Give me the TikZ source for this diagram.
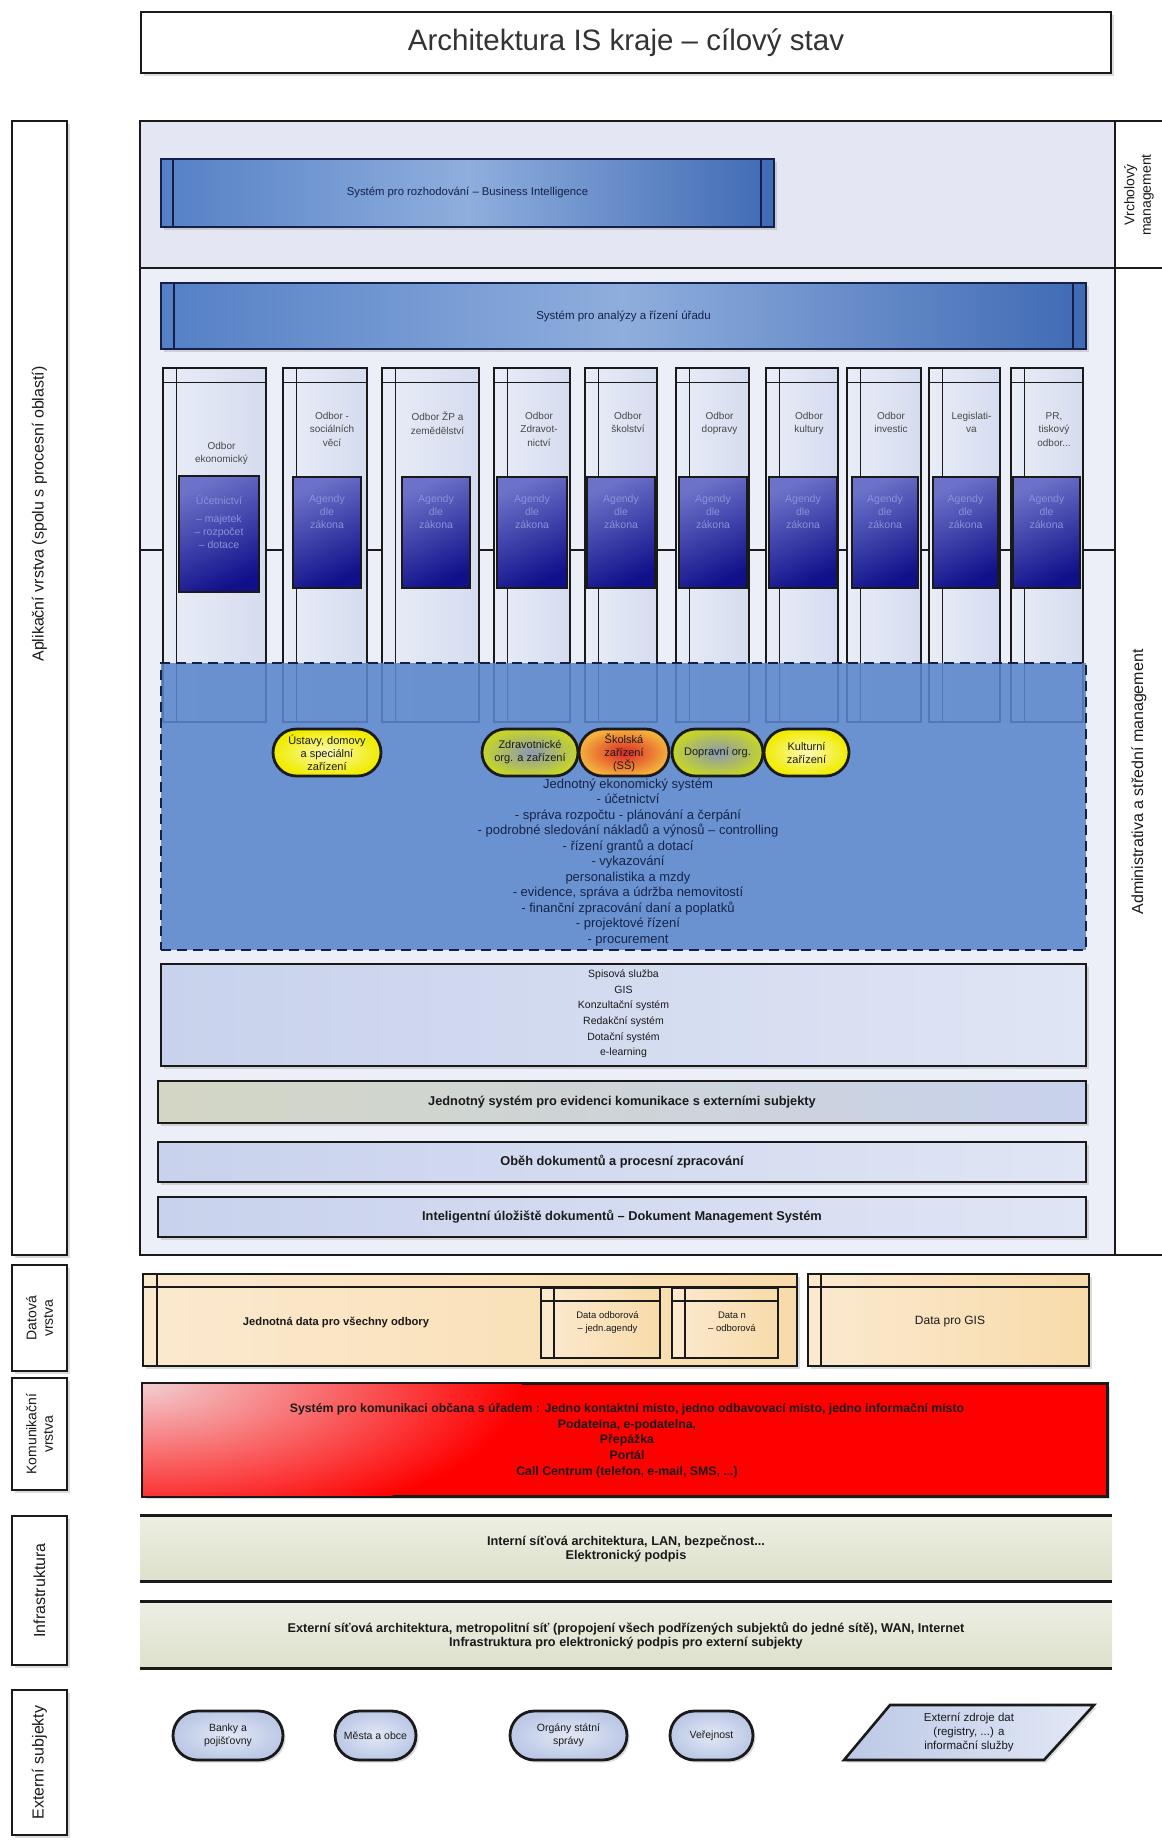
\documentclass[tikz,border=0pt]{standalone}
\usepackage{fontspec}
\setmainfont{Liberation Sans}
\usetikzlibrary{shapes.misc,shadows}
\definecolor{inkA}{HTML}{1A1A1A}
\definecolor{navyD}{HTML}{14204A}
\definecolor{topArea}{HTML}{E4E7F3}
\definecolor{lowArea}{HTML}{EDEFF8}
\definecolor{biL}{HTML}{5580C6}
\definecolor{biM}{HTML}{8FAEDD}
\definecolor{biR}{HTML}{3F6AB4}
\definecolor{colL}{HTML}{E9EDF7}
\definecolor{colR}{HTML}{D5DCEF}
\definecolor{agTop}{HTML}{6C72C8}
\definecolor{agBot}{HTML}{10108A}
\definecolor{agTxt}{HTML}{8A90D8}
\definecolor{procBlue}{HTML}{5A86CB}
\definecolor{procTxt}{HTML}{15234A}
\definecolor{yelIn}{HTML}{FBF9B8}
\definecolor{yelOut}{HTML}{F0EC00}
\definecolor{grnIn}{HTML}{8C98B4}
\definecolor{grnOut}{HTML}{C4D42A}
\definecolor{redIn}{HTML}{DC2828}
\definecolor{redOut}{HTML}{F4B03C}
\definecolor{bandL}{HTML}{C8D2EC}
\definecolor{bandR}{HTML}{DFE5F4}
\definecolor{bandG}{HTML}{D3D6C4}
\definecolor{dataL}{HTML}{FBE9CF}
\definecolor{dataR}{HTML}{F8DBAA}
\definecolor{comL}{HTML}{F2CFD2}
\definecolor{comM}{HTML}{F43030}
\definecolor{comR}{HTML}{FF0000}
\definecolor{infT}{HTML}{EDEFE3}
\definecolor{infB}{HTML}{DDE0CB}
\definecolor{extIn}{HTML}{E2E8F5}
\definecolor{extOut}{HTML}{BCC8E6}
\begin{document}
\begin{tikzpicture}[x=1pt,y=-1pt,
  every node/.style={inner sep=0pt,align=center},
  sh/.style={drop shadow={shadow xshift=2.5pt,shadow yshift=-2.5pt,opacity=0.28}},
  lab/.style={draw=inkA,line width=2.6pt,fill=white,sh},
  labtxt/.style={rotate=90,font=\fontsize{16}{18}\selectfont,text=inkA},
  labtxtS/.style={rotate=90,font=\fontsize{14}{16.5}\selectfont,text=inkA},
  sub/.style={draw=navyD,line width=1.8pt,left color=biL,right color=biR,middle color=biM,sh},
  colbox/.style={draw=inkA,line width=1.6pt,left color=colL,right color=colR},
  coltxt/.style={font=\fontsize{10}{13.5}\selectfont,text=inkA!80,anchor=north},
  agbox/.style={draw=inkA,line width=1.4pt,top color=agTop,bottom color=agBot,shading angle=25},
  agtxt/.style={font=\fontsize{10.5}{13}\selectfont,text=agTxt},
  band/.style={draw=inkA,line width=2.4pt,left color=bandL,right color=bandR,sh},
  btxt/.style={font=\bfseries\fontsize{12.8}{15.6}\selectfont,text=inkA},
  stxt/.style={font=\fontsize{10.5}{15.6}\selectfont,text=inkA},
  pill/.style={rounded rectangle,draw=inkA,line width=2.8pt,minimum height=47,font=\fontsize{11}{13}\selectfont,text=inkA},
  epill/.style={pill,sh,minimum height=49,inner color=extIn,outer color=extOut,font=\fontsize{10.5}{13}\selectfont},
  databox/.style={draw=inkA,line width=1.8pt,left color=dataL,right color=dataR},
]
\fill[white] (0,0) rectangle (1162,1845);
\useasboundingbox (0,0) rectangle (1162,1845);

% ---------- title
\node (title) [draw=inkA,line width=2pt,fill=white,sh,minimum width=970,minimum height=61,
  font=\fontsize{29.5}{32}\selectfont,text=black!80] at (626,42.5) {Architektura IS kraje – cílový stav};

% ---------- main application frame
\fill[topArea] (140,121) rectangle (1115,268);
\fill[lowArea] (140,268) rectangle (1115,1255);
\draw[line width=2.4pt,inkA] (1162,121) -- (140,121) -- (140,1255) -- (1162,1255);
\draw[line width=2.4pt,inkA] (1115,121) -- (1115,1255);
\draw[line width=2pt,inkA] (140,268) -- (1162,268);
\draw[line width=1.4pt,inkA] (140,550) -- (1115,550);

\node (vmTxt) [labtxtS] at (1139,195) {Vrcholový\\management};
\node (asmTxt) [labtxt] at (1139,782) {Administrativa a střední management};

% ---------- BI and analytics
\node (bi) [sub,minimum width=613,minimum height=68,font=\fontsize{11.3}{12}\selectfont,text=navyD]
  at (467.5,193) {Systém pro rozhodování – Business Intelligence};
\draw[navyD,line width=1.4pt] ([xshift=13pt]bi.north west) -- ([xshift=13pt]bi.south west);
\draw[navyD,line width=1.4pt] ([xshift=-14pt]bi.north east) -- ([xshift=-14pt]bi.south east);

\node (an) [sub,minimum width=925,minimum height=66,font=\fontsize{11.5}{12}\selectfont,text=navyD]
  at (623.5,316) {Systém pro analýzy a řízení úřadu};
\draw[navyD,line width=1.4pt] ([xshift=14pt]an.north west) -- ([xshift=14pt]an.south west);
\draw[navyD,line width=1.4pt] ([xshift=-14pt]an.north east) -- ([xshift=-14pt]an.south east);

% ---------- department columns
\foreach \i/\a/\b in {1/163/266,2/283/367,3/382/479,4/494/570,5/585/657,6/676/749,7/766/838,8/847/921,9/929/1000,10/1011/1083}{
  \node (col\i) [colbox,minimum width={\b-\a},minimum height=354] at ({(\a+\b)/2},545) {};
  \draw[inkA,line width=1.3pt] ([yshift=-15pt]col\i.north west) -- ([yshift=-15pt]col\i.north east);
  \draw[inkA,line width=1.3pt] ([xshift=14pt]col\i.north west) -- ([xshift=14pt]col\i.south west);
}
\node (ct1) [coltxt] at (221.5,442) {Odbor\\ekonomický};
\node (ct2) [coltxt] at (332,412) {Odbor -\\sociálních\\věcí};
\node (ct3) [coltxt] at (437.5,412) {Odbor ŽP a\\zemědělství};
\node (ct4) [coltxt] at (539,412) {Odbor\\Zdravot-\\nictví};
\node (ct5) [coltxt] at (628,412) {Odbor\\školství};
\node (ct6) [coltxt] at (719.5,412) {Odbor\\dopravy};
\node (ct7) [coltxt] at (809,412) {Odbor\\kultury};
\node (ct8) [coltxt] at (891,412) {Odbor\\investic};
\node (ct9) [coltxt] at (971.5,412) {Legislati-\\va};
\node (ct10) [coltxt] at (1054,412) {PR,\\tiskový\\odbor...};

% agenda boxes
\node (ag1) [agbox,minimum width=80,minimum height=116] at (219,534) {};
\node (agt1) [agtxt] at (219,522) {Účetnictví\\[5pt]– majetek\\– rozpočet\\– dotace};
\foreach \i/\c/\w in {2/327/68,3/436/68,4/532/70,5/621/68,6/713/68,7/803/68,8/885/66,9/965.5/65,10/1046.5/67}{
  \node (ag\i) [agbox,minimum width=\w,minimum height=111] at (\c,532.5) {};
  \node (agt\i) [agtxt] at (\c,512) {Agendy\\dle\\zákona};
}

% ---------- process area
\node (proc) [draw=navyD,dash pattern=on 10pt off 6pt,line width=2.2pt,fill=procBlue,fill opacity=0.88,
  minimum width=925,minimum height=287] at (623.5,806.5) {};
\node (pUst) [pill,minimum width=108,inner color=yelIn,outer color=yelOut] at (327,752.5) {Ústavy, domovy\\a speciální\\zařízení};
\node (pZdr) [pill,minimum width=96,inner color=grnIn,outer color=grnOut] at (530,752.5) {Zdravotnické\\org. a zařízení};
\node (pSko) [pill,minimum width=90,inner color=redIn,outer color=redOut] at (624,752.5) {Školská\\zařízení\\(SŠ)};
\node (pDop) [pill,minimum width=91,inner color=grnIn,outer color=grnOut] at (717.5,752.5) {Dopravní org.};
\node (pKul) [pill,minimum width=85,inner color=yelIn,outer color=yelOut] at (806.5,752.5) {Kulturní\\zařízení};
\node (procText) [font=\fontsize{13}{15.5}\selectfont,text=procTxt] at (628,862.5)
  {Jednotný ekonomický systém\\- účetnictví\\- správa rozpočtu - plánování a čerpání\\- podrobné sledování nákladů a výnosů – controlling\\- řízení grantů a dotací\\- vykazování\\personalistika a mzdy\\- evidence, správa a údržba nemovitostí\\- finanční zpracování daní a poplatků\\- projektové řízení\\- procurement};

% ---------- common services bands
\node (spis) [band,minimum width=925,minimum height=102] at (623.5,1015) {};
\node (spisT) [stxt] at (623.5,1014) {Spisová služba\\GIS\\Konzultační systém\\Redakční systém\\Dotační systém\\e-learning};
\node (jed) [band,left color=bandG,middle color=bandR,right color=bandL,minimum width=928,minimum height=42] at (622,1102) {};
\node (jedT) [btxt] at (622,1102) {Jednotný systém pro evidenci komunikace s externími subjekty};
\node (obeh) [band,minimum width=928,minimum height=40] at (622,1162) {};
\node (obehT) [btxt] at (622,1162) {Oběh dokumentů a procesní zpracování};
\node (dms) [band,minimum width=928,minimum height=40] at (622,1217) {};
\node (dmsT) [btxt] at (622,1217) {Inteligentní úložiště dokumentů – Dokument Management Systém};

% ---------- data layer
\node (dAll) [databox,sh,minimum width=654,minimum height=92] at (470,1320) {};
\draw[inkA,line width=1.4pt] ([yshift=-14pt]dAll.north west) -- ([yshift=-14pt]dAll.north east);
\draw[inkA,line width=1.4pt] ([xshift=15pt]dAll.north west) -- ([xshift=15pt]dAll.south west);
\node (dAllT) [font=\bfseries\fontsize{11.2}{13}\selectfont,text=inkA] at (336,1322) {Jednotná data pro všechny odbory};
\node (dOdb) [databox,minimum width=119,minimum height=70] at (600.5,1323) {};
\draw[inkA,line width=1.3pt] ([yshift=-14pt]dOdb.north west) -- ([yshift=-14pt]dOdb.north east);
\draw[inkA,line width=1.3pt] ([xshift=14pt]dOdb.north west) -- ([xshift=14pt]dOdb.south west);
\node (dOdbT) [font=\fontsize{9.5}{13}\selectfont,text=inkA] at (607.5,1322) {Data odborová\\– jedn.agendy};
\node (dN) [databox,minimum width=106,minimum height=70] at (725,1323) {};
\draw[inkA,line width=1.3pt] ([yshift=-14pt]dN.north west) -- ([yshift=-14pt]dN.north east);
\draw[inkA,line width=1.3pt] ([xshift=14pt]dN.north west) -- ([xshift=14pt]dN.south west);
\node (dNT) [font=\fontsize{9.5}{13}\selectfont,text=inkA] at (732,1322) {Data n\\– odborová};
\node (dGis) [databox,sh,minimum width=281,minimum height=92] at (948.5,1320) {};
\draw[inkA,line width=1.4pt] ([yshift=-14pt]dGis.north west) -- ([yshift=-14pt]dGis.north east);
\draw[inkA,line width=1.4pt] ([xshift=14pt]dGis.north west) -- ([xshift=14pt]dGis.south west);
\node (dGisT) [font=\fontsize{12}{13}\selectfont,text=inkA] at (950,1322) {Data pro GIS};

% ---------- communication layer
\node (com) [draw=inkA,line width=2.4pt,fill=comR,sh,minimum width=964,minimum height=112] at (625,1440) {};
\begin{scope}
  \clip (com.north west) rectangle (com.south east);
  \shade[inner color=comL,outer color=comR] (com.north west) ellipse (380pt and 150pt);
\end{scope}
\draw[inkA,line width=2.4pt] (com.north west) rectangle (com.south east);
\node (comT) [btxt,font=\bfseries\fontsize{12.3}{15.75}\selectfont] at (627,1440.5)
  {Systém pro komunikaci občana s úřadem : Jedno kontaktní místo, jedno odbavovací místo, jedno informační místo\\Podatelna, e-podatelna,\\Přepážka\\Portál\\Call Centrum (telefon, e-mail, SMS, ...)};

% ---------- infrastructure
\node (inf1) [top color=infT,bottom color=infB,minimum width=972,minimum height=65] at (626,1548.5) {};
\draw[inkA,line width=3pt] (inf1.north west) -- (inf1.north east);
\draw[inkA,line width=3pt] (inf1.south west) -- (inf1.south east);
\node (inf1T) [btxt,font=\bfseries\fontsize{12.7}{14.5}\selectfont] at (626,1549) {Interní síťová architektura, LAN, bezpečnost...\\Elektronický podpis};
\node (inf2) [top color=infT,bottom color=infB,minimum width=972,minimum height=66] at (626,1635) {};
\draw[inkA,line width=3pt] (inf2.north west) -- (inf2.north east);
\draw[inkA,line width=3pt] (inf2.south west) -- (inf2.south east);
\node (inf2T) [btxt,font=\bfseries\fontsize{12.7}{14.5}\selectfont] at (626,1635.5) {Externí síťová architektura, metropolitní síť (propojení všech podřízených subjektů do jedné sítě), WAN, Internet\\Infrastruktura pro elektronický podpis pro externí subjekty};

% ---------- external subjects
\node (eBan) [epill,minimum width=110] at (228,1735.5) {Banky a\\pojišťovny};
\node (eMes) [epill,minimum width=81] at (375.5,1735.5) {Města a obce};
\node (eOrg) [epill,minimum width=117] at (568.5,1735.5) {Orgány státní\\správy};
\node (eVer) [epill,minimum width=83] at (711.5,1735.5) {Veřejnost};
\coordinate (pTL) at (890,1705);
\coordinate (pTR) at (1094,1705);
\coordinate (pBR) at (1044,1760);
\coordinate (pBL) at (844,1760);
\draw[inkA,line width=2.6pt,left color=extOut,right color=extIn,sh] (pTL) -- (pTR) -- (pBR) -- (pBL) -- cycle;
\node (eExt) [font=\fontsize{11.5}{14}\selectfont,text=inkA] at (969,1732.5) {Externí zdroje dat\\(registry, ...) a\\informační služby};

% ---------- left layer labels
\node (lApl) [lab,minimum width=55,minimum height=1134] at (39.5,688) {};
\node (lAplT) [labtxt] at (39.5,514) {Aplikační vrstva (spolu s procesní oblastí)};
\node (lDat) [lab,minimum width=55,minimum height=106] at (39.5,1318) {};
\node (lDatT) [labtxtS] at (39.5,1318) {Datová\\vrstva};
\node (lKom) [lab,minimum width=55,minimum height=112] at (39.5,1434) {};
\node (lKomT) [labtxtS] at (39.5,1434) {Komunikační\\vrstva};
\node (lInf) [lab,minimum width=55,minimum height=149] at (39.5,1590.5) {};
\node (lInfT) [labtxt] at (39.5,1590.5) {Infrastruktura};
\node (lExt) [lab,minimum width=55,minimum height=145] at (39.5,1762.5) {};
\node (lExtT) [labtxt] at (39.5,1762.5) {Externí subjekty};
\end{tikzpicture}
\end{document}
